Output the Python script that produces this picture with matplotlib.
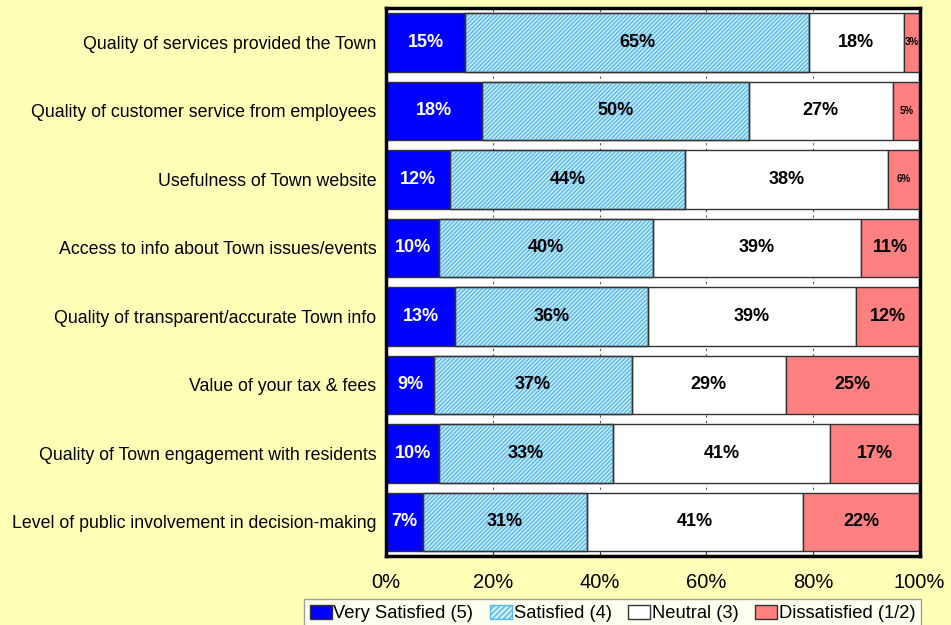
import matplotlib
matplotlib.use("Agg")
import matplotlib.pyplot as plt
import numpy as np
from matplotlib.patches import Patch

plt.rcParams['font.family'] = ['Liberation Sans', 'DejaVu Sans']
plt.rcParams['hatch.linewidth'] = 1.1

categories = [
    "Quality of services provided the Town",
    "Quality of customer service from employees",
    "Usefulness of Town website",
    "Access to info about Town issues/events",
    "Quality of transparent/accurate Town info",
    "Value of your tax & fees",
    "Quality of Town engagement with residents",
    "Level of public involvement in decision-making",
]
series_names = ["Very Satisfied (5)", "Satisfied (4)", "Neutral (3)", "Dissatisfied (1/2)"]
very_satisfied = [15, 18, 12, 10, 13, 9, 10, 7]
satisfied = [65, 50, 44, 40, 36, 37, 33, 31]
neutral = [18, 27, 38, 39, 39, 29, 41, 41]
dissatisfied = [3, 5, 6, 11, 12, 25, 17, 22]
x_ticks = [0, 20, 40, 60, 80, 100]
x_tick_labels = ["0%", "20%", "40%", "60%", "80%", "100%"]

bg = "#FFFFB8"
fig = plt.figure(figsize=(9.51, 6.25), dpi=100, facecolor=bg)
ax = fig.add_axes([0.406, 0.110, 0.561, 0.877])
ax.set_facecolor("white")

data = np.array([very_satisfied, satisfied, neutral, dissatisfied], dtype=float)
totals = data.sum(axis=0)
shares = data / totals * 100

y = np.arange(len(categories))
face = ["#0000FF", "#D6EFFC", "white", "#FF8080"]
hatch_pat = "////////"
hatch_edge = "#58BAEC"
left = np.zeros(len(categories))
for i in range(4):
    ax.barh(y, shares[i], left=left, height=0.85, color=face[i],
            edgecolor="#333333", linewidth=1.0, zorder=2)
    if i == 1:
        ax.barh(y, shares[i], left=left, height=0.85, color="none",
                edgecolor=hatch_edge, hatch=hatch_pat, linewidth=0, zorder=3)
        ax.barh(y, shares[i], left=left, height=0.85, color="none",
                edgecolor="#333333", linewidth=1.0, zorder=4)
    for j in range(len(categories)):
        v = int(data[i][j])
        small = v <= 6 and i == 3
        ax.text(left[j] + shares[i][j] / 2, y[j], f"{v}%",
                ha="center", va="center",
                fontsize=7 if small else 13, fontweight="bold",
                color="white" if i == 0 else "black", zorder=5)
    left += shares[i]

ax.set_xlim(0, 100)
ax.set_ylim(len(categories) - 0.5, -0.5)
ax.set_yticks(y)
ax.set_yticklabels(categories, fontsize=12.8)
ax.set_xticks(x_ticks)
ax.set_xticklabels(x_tick_labels, fontsize=14.5)
ax.tick_params(axis="y", length=0, pad=7)
ax.tick_params(axis="x", direction="in", length=4, pad=12, color="#333333")
for xt in x_ticks[1:-1]:
    ax.axvline(xt, color="#555555", linestyle=(0, (2, 3)), linewidth=0.8, zorder=1)
for s in ax.spines.values():
    s.set_linewidth(2.5)
    s.set_color("black")

handles = [
    Patch(facecolor=face[0], edgecolor="#333333"),
    Patch(facecolor=face[1], edgecolor=hatch_edge, hatch="//////"),
    Patch(facecolor="white", edgecolor="#333333"),
    Patch(facecolor=face[3], edgecolor="#333333"),
]
leg = fig.legend(handles, series_names, loc="upper left",
                 bbox_to_anchor=(304 / 951, 1 - 599 / 625),
                 ncol=4, fontsize=13.2, frameon=True, fancybox=False,
                 handlelength=1.2, handleheight=0.8, handletextpad=0.1,
                 columnspacing=0.9, borderpad=0.3, borderaxespad=0,
                 edgecolor="#888888")
leg.get_frame().set_facecolor("white")
leg.get_frame().set_linewidth(1.0)

fig.savefig("out.png", dpi=100, facecolor=bg)
